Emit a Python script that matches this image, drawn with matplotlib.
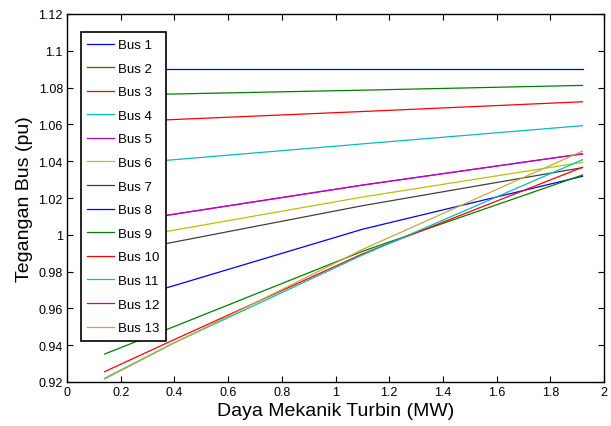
import matplotlib
matplotlib.use("Agg")
import matplotlib.pyplot as plt
from matplotlib.ticker import FuncFormatter

plt.rcParams['font.family'] = ['Liberation Sans', 'DejaVu Sans']

# daya mekanik turbin (MW)
daya = [0.14, 0.39, 1.1, 1.92]

# tegangan tiap bus (pu)
bus1 = [1.090, 1.090, 1.090, 1.090]
bus2 = [1.0757, 1.0765, 1.0786, 1.0812]
bus3 = [1.0610, 1.0626, 1.0670, 1.0723]
bus4 = [1.0376, 1.0407, 1.0494, 1.0593]
bus5 = [1.0050, 1.0110, 1.0270, 1.0440]
bus6 = [0.9958, 1.0023, 1.0205, 1.0394]
bus7 = [0.9890, 0.9958, 1.0158, 1.0365]
bus8 = [0.9615, 0.9720, 1.0030, 1.0318]
bus9 = [0.9352, 0.9496, 0.9910, 1.0325]
bus10 = [0.9256, 0.9424, 0.9896, 1.0367]
bus11 = [0.9220, 0.9407, 0.9890, 1.0408]
bus12 = [1.0050, 1.0110, 1.0270, 1.0440]
bus13 = [0.9216, 0.9405, 0.9920, 1.0455]

data = [bus1, bus2, bus3, bus4, bus5, bus6, bus7,
        bus8, bus9, bus10, bus11, bus12, bus13]
labels = ['Bus %d' % (i + 1) for i in range(13)]
# warna ala matlab
warna = ['#0000ff', '#008000', '#ff0000', '#00bfbf', '#bf00bf', '#bfbf00', '#404040',
         '#0000ff', '#008000', '#ff0000', '#00bfbf', '#bf00bf', '#c8a83c']

fig = plt.figure(figsize=(6.11, 4.27), dpi=100)
ax = fig.add_axes([67/611, 1 - 383/427, (604 - 67)/611, (383 - 15)/427])

for y, lab, c in zip(data, labels, warna):
    ax.plot(daya, y, color=c, lw=0.9, label=lab)

ax.set_xlim(0, 2)
ax.set_ylim(0.92, 1.12)
ax.set_xticks([i * 0.2 for i in range(11)])
ax.set_yticks([0.92 + i * 0.02 for i in range(11)])
fmt = FuncFormatter(lambda v, p: ('%.2f' % v).rstrip('0').rstrip('.'))
ax.xaxis.set_major_formatter(fmt)
ax.yaxis.set_major_formatter(fmt)
ax.tick_params(direction='in', top=True, right=True, length=4, width=0.8,
               labelsize=9, pad=3)
for s in ax.spines.values():
    s.set_linewidth(1.0)

ax.set_xlabel('Daya Mekanik Turbin (MW)', fontsize=14, labelpad=3)
ax.set_ylabel('Tegangan Bus (pu)', fontsize=14, labelpad=4)

leg = ax.legend(loc='upper left', bbox_to_anchor=(80.7/611, 1 - 33.3/427),
                bbox_transform=fig.transFigure, borderaxespad=0,
                fontsize=9.5, labelspacing=0.86, handlelength=2.0,
                handletextpad=0.3, borderpad=0.5, fancybox=False,
                framealpha=1)
leg.get_frame().set_edgecolor('black')
leg.get_frame().set_linewidth(1.2)

fig.savefig('out.png', dpi=100)
